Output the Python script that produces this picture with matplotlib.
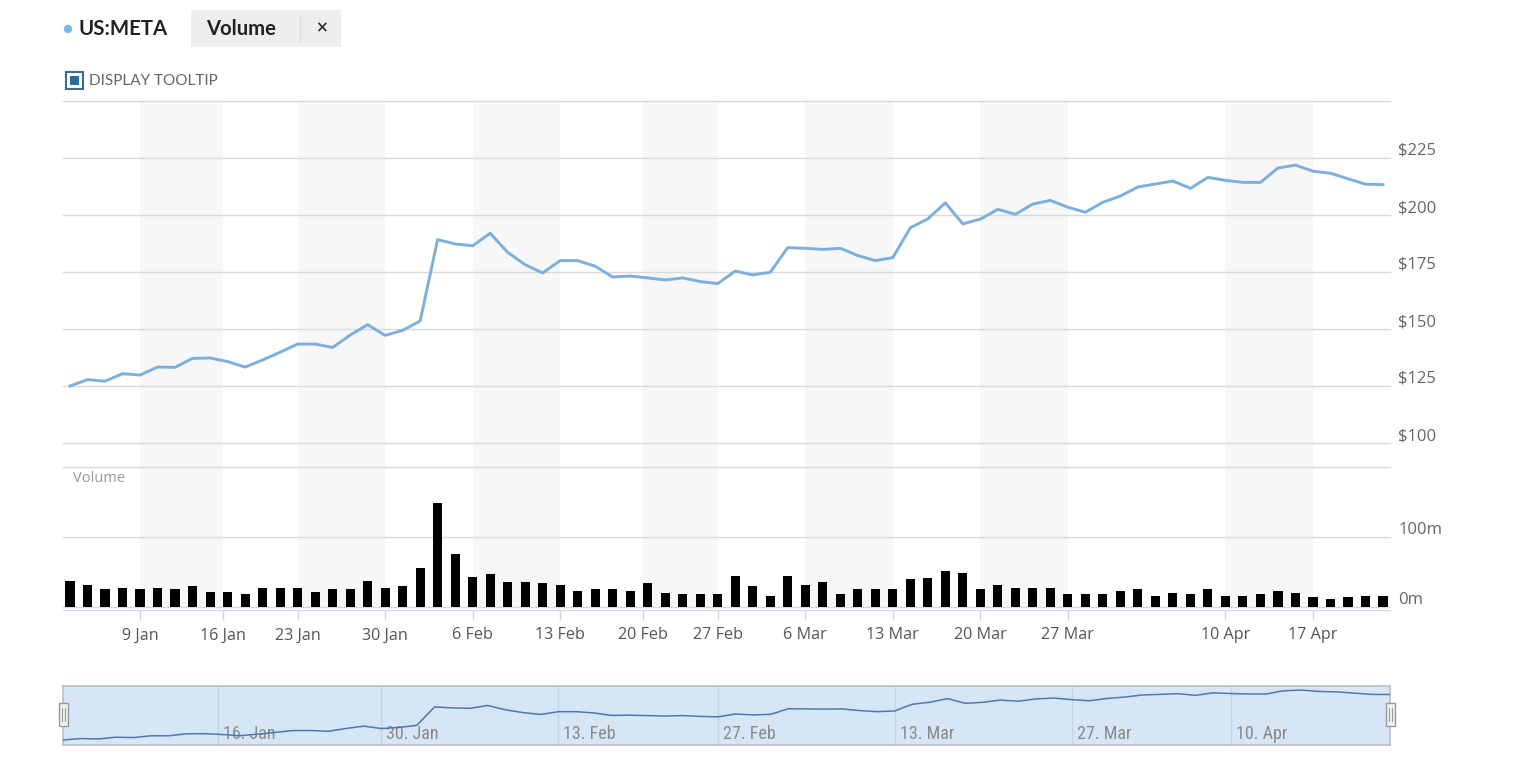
import numpy as np
import pandas as pd
import matplotlib
matplotlib.use('Agg')
import matplotlib.pyplot as plt
from matplotlib.patches import Rectangle, Ellipse
from matplotlib.lines import Line2D
from matplotlib.transforms import ScaledTranslation, blended_transform_factory
from matplotlib import font_manager

# ---------------- data ----------------
holidays = ['2023-01-16', '2023-02-20', '2023-04-07']
trade_days = [d for d in pd.bdate_range('2023-01-03', '2023-04-21')
              if d.strftime('%Y-%m-%d') not in holidays]

close_price = [125.0, 127.8, 127.1, 130.4, 129.8, 133.3, 133.2, 137.1, 137.3, 135.7,
               133.3, 136.4, 139.8, 143.4, 143.4, 141.9, 147.3, 151.9, 147.2, 149.4,
               153.5, 189.2, 187.3, 186.5, 192.0,
               183.6, 178.2, 174.6, 180.0, 180.0, 177.5, 172.8, 173.2, 172.4, 171.5,
               172.4, 170.8, 169.9, 175.4, 173.7, 174.9, 185.7, 185.4, 184.9, 185.4,
               182.2, 180.0, 181.3, 194.4,
               198.3, 205.3, 196.1, 198.2, 202.5, 200.3, 204.8, 206.4, 203.4, 201.2,
               205.6, 208.3, 212.3, 213.6, 214.9, 211.7, 216.5, 215.2, 214.3, 214.3,
               220.6, 221.9, 219.2, 218.3, 215.9, 213.5, 213.3]

volume_m = [36.2, 31.4, 25.1, 27.0, 25.1, 27.0, 25.1, 29.5, 20.8, 20.8,
            18.4, 27.0, 27.0, 27.0, 20.8, 25.1, 25.1, 36.2, 27.0, 29.5,
            55.5, 148.8, 74.9,
            42.0, 46.4, 35.6, 35.6, 33.2, 30.7, 22.4, 24.4, 24.4, 22.4,
            33.2, 20.0, 18.1, 18.1, 18.1, 43.9, 29.3, 15.6, 43.9,
            31.2, 35.1, 18.0, 24.4, 24.4, 24.4, 39.0, 41.4, 50.2, 48.3,
            24.4, 30.7, 26.3, 26.3, 26.3, 18.0, 18.0, 18.0, 21.9, 24.4,
            15.6, 20.0, 18.0, 24.4, 15.6, 15.6, 18.0, 21.9, 20.0, 13.2,
            11.2, 13.2, 15.6, 15.6]

xtick_dates = ['2023-01-09', '2023-01-16', '2023-01-23', '2023-01-30', '2023-02-06',
               '2023-02-13', '2023-02-20', '2023-02-27', '2023-03-06', '2023-03-13',
               '2023-03-20', '2023-03-27', '2023-04-10', '2023-04-17']
xtick_labels = ['9 Jan', '16 Jan', '23 Jan', '30 Jan', '6 Feb', '13 Feb', '20 Feb',
                '27 Feb', '6 Mar', '13 Mar', '20 Mar', '27 Mar', '10 Apr', '17 Apr']

price_ticks = [100, 125, 150, 175, 200, 225, 250]
price_labels = ['$100', '$125', '$150', '$175', '$200', '$225', '']
vol_ticks = [0, 100, 200]
vol_labels = ['0m', '100m', '']

nav_dates = ['2023-01-16', '2023-01-30', '2023-02-13', '2023-02-27',
             '2023-03-13', '2023-03-27', '2023-04-10']
nav_labels = ['16. Jan', '30. Jan', '13. Feb', '27. Feb', '13. Mar', '27. Mar', '10. Apr']

# ---------------- helpers ----------------
W, H = 1520, 780
fig = plt.figure(figsize=(W / 100, H / 100), dpi=100)
fig.patch.set_facecolor('white')

names = {f.name for f in font_manager.fontManager.ttflist}
MAIN = 'Lato' if 'Lato' in names else 'DejaVu Sans'
AXF = 'Open Sans' if 'Open Sans' in names else MAIN
NARROW = None
for cand in ['Roboto Condensed', 'Open Sans Condensed', 'Liberation Sans Narrow',
             'Arial Narrow', 'DejaVu Sans Condensed']:
    if cand in names:
        NARROW = cand
        break
plt.rcParams['font.family'] = [MAIN, 'DejaVu Sans']


def rect(x0, y0, x1, y1):
    return [x0 / W, 1 - y1 / H, (x1 - x0) / W, (y1 - y0) / H]


def fx(x):
    return x / W


def fy(y):
    return 1 - y / H


idx = np.arange(len(trade_days))
day_num = np.array([d.toordinal() for d in trade_days])


def ordinal_pos(dstr):
    return float(np.interp(pd.Timestamp(dstr).toordinal(), day_num, idx))


xt = [ordinal_pos(d) for d in xtick_dates]
XL = (-0.4, 75.4)

GRID = '#dadada'
LBL = '#666666'

# ---------------- band background ----------------
bg = fig.add_axes(rect(63, 100, 1390, 607))
bg.set_xlim(*XL)
bg.set_ylim(0, 1)
bg.axis('off')
bg.set_zorder(0)
for k in range(0, len(xt) - 1, 2):
    bg.axvspan(xt[k], xt[k + 1], color='#f7f7f7', lw=0)

# ---------------- price pane ----------------
ax = fig.add_axes(rect(63, 101, 1390, 443))
ax.set_zorder(2)
ax.patch.set_visible(False)
ax.set_xlim(*XL)
ax.set_ylim(100, 250)
for s in ax.spines.values():
    s.set_visible(False)
for v in price_ticks:
    ax.axhline(v, color=GRID, lw=1, clip_on=False, zorder=1)
ax.plot(idx, close_price, color='#7cafdd', lw=2.1, zorder=3, solid_joinstyle='round')
ax.set_xticks([])
ax.set_yticks(price_ticks, price_labels)
ax.yaxis.tick_right()
ax.tick_params(axis='y', length=0, pad=6, labelsize=12, labelcolor=LBL)
off = ScaledTranslation(0, 0.09, fig.dpi_scale_trans)
for lab in ax.get_yticklabels():
    lab.set_transform(lab.get_transform() + off)
    lab.set_family([AXF, 'DejaVu Sans'])

# ---------------- volume pane ----------------
av = fig.add_axes(rect(63, 467, 1390, 610))
av.set_zorder(2)
av.patch.set_visible(False)
av.set_xlim(*XL)
av.set_ylim(-5, 200)
for s in ['top', 'left', 'right']:
    av.spines[s].set_visible(False)
av.spines['bottom'].set_color('#ccd6eb')
for v in vol_ticks:
    av.axhline(v, color=GRID, lw=1, clip_on=False, zorder=1)
av.bar(idx, volume_m, width=0.52, color='black', zorder=3)
av.set_yticks(vol_ticks, vol_labels)
av.yaxis.tick_right()
av.tick_params(axis='y', length=0, pad=6, labelsize=12, labelcolor=LBL)
for lab in av.get_yticklabels():
    lab.set_transform(lab.get_transform() + off)
    lab.set_family([AXF, 'DejaVu Sans'])
av.set_xticks(xt, xtick_labels)
av.tick_params(axis='x', direction='out', length=7.5, width=1, color='#ccd6eb',
               pad=5, labelsize=11.6, labelcolor='#555555')
for lab in av.get_xticklabels():
    lab.set_family([AXF, 'DejaVu Sans'])

fig.text(fx(73), fy(478), 'Volume', fontsize=10.5, color='#999999', va='center',
         ha='left', family=[AXF, 'DejaVu Sans'])

# ---------------- header ----------------
fig.add_artist(Ellipse((fx(68), fy(29)), 7 / W, 7 / H, transform=fig.transFigure,
                       color='#7cb5ec'))
fig.text(fx(78), fy(29), 'US:META', fontsize=14.7, fontweight='bold', color='#222222',
         va='center', ha='left')
fig.add_artist(Rectangle((fx(191), fy(47)), 150 / W, 37 / H, transform=fig.transFigure,
                         facecolor='#eeeeee', edgecolor='none'))
fig.add_artist(Line2D([fx(300), fx(300)], [fy(15), fy(42)], transform=fig.transFigure,
                      color='#dddddd', lw=1))
fig.text(fx(206), fy(29), 'Volume', fontsize=14.6, fontweight='bold', color='#222222',
         va='center', ha='left')
fig.text(fx(321), fy(28), '×', fontsize=11, fontweight='bold', color='#333333',
         va='center', ha='center', family=['DejaVu Sans'])

fig.add_artist(Rectangle((fx(66), fy(89)), 17 / W, 17 / H, transform=fig.transFigure,
                         facecolor='white', edgecolor='#3b6b8f', lw=1.5))
fig.add_artist(Rectangle((fx(70), fy(85)), 9 / W, 9 / H, transform=fig.transFigure,
                         facecolor='#2e6b9c', edgecolor='none'))
fig.text(fx(89), fy(81), 'DISPLAY TOOLTIP', fontsize=11, color='#666666',
         va='center', ha='left')

# ---------------- navigator ----------------
nav = fig.add_axes(rect(63, 686, 1390, 745))
nav.set_facecolor('#d6e6f6')
nav.set_xlim(0, len(trade_days) - 1)
nav.set_ylim(115.3, 229.8)
for s in nav.spines.values():
    s.set_color('#b8bfc7')
    s.set_linewidth(1.2)
nav.set_xticks([])
nav.set_yticks([])
tr = blended_transform_factory(nav.transData, nav.transAxes)
nav_off = ScaledTranslation(0.05, 0, fig.dpi_scale_trans)
for d, lbl in zip(nav_dates, nav_labels):
    p = ordinal_pos(d)
    nav.axvline(p, color='#c5d3e2', lw=1, zorder=1)
    if NARROW:
        kw = dict(family=[NARROW, 'DejaVu Sans'])
    else:
        kw = dict(family=['DejaVu Sans'], fontstretch='condensed')
    nav.text(p, 0.19, lbl, transform=tr + nav_off, fontsize=13, color='#8a8a8a',
             va='center', ha='left', zorder=2, **kw)
nav.plot(idx, close_price, color='#4f78aa', lw=1.1, zorder=3)

for hx in (63, 1390):
    fig.add_artist(Rectangle((fx(hx - 4.5), fy(726)), 9 / W, 23 / H, transform=fig.transFigure,
                             facecolor='#f2f2f2', edgecolor='#9a9a9a', lw=1, zorder=5))
    for dx in (-1.5, 1.5):
        fig.add_artist(Line2D([fx(hx + dx), fx(hx + dx)], [fy(708), fy(721)],
                              transform=fig.transFigure, color='#9a9a9a', lw=0.8, zorder=6))

fig.savefig('out.png', dpi=100, facecolor='white')
